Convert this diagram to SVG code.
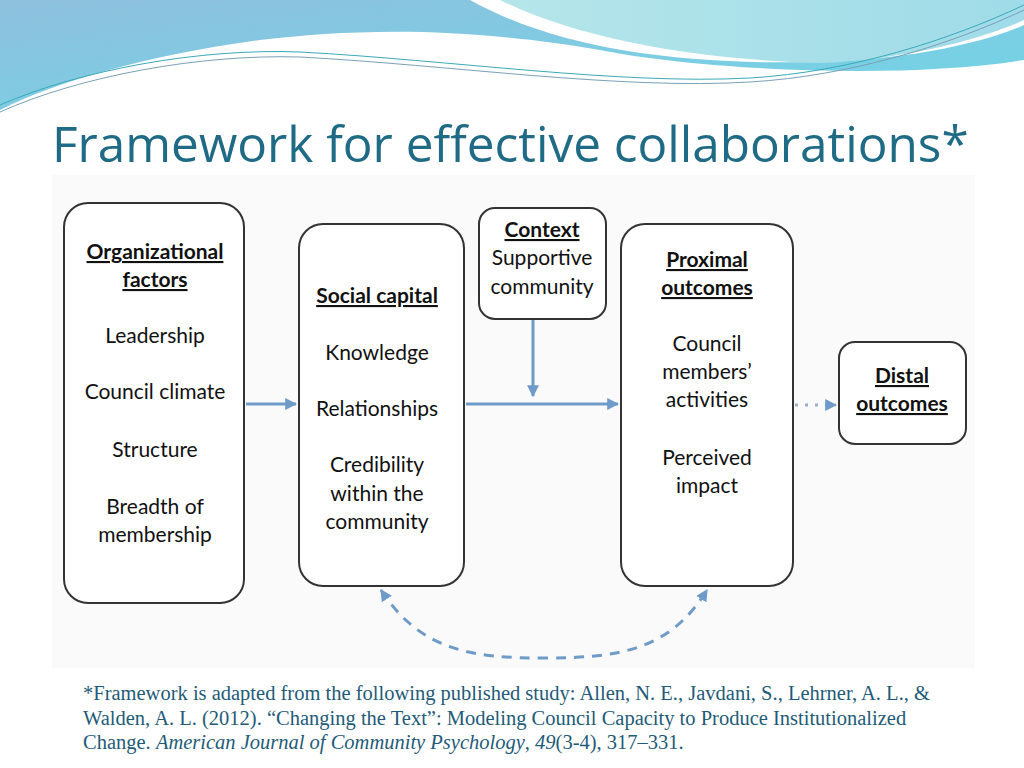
<svg xmlns="http://www.w3.org/2000/svg" width="1024" height="768" viewBox="0 0 1024 768">
<defs>
<linearGradient id="g1" x1="0" y1="0" x2="1" y2="1"><stop offset="0" stop-color="#8ec0de"/><stop offset="1" stop-color="#6fd6e6"/></linearGradient>
<linearGradient id="g2" x1="0" y1="0" x2="1" y2="0"><stop offset="0" stop-color="#b5e6ea"/><stop offset="1" stop-color="#9fdbe8"/></linearGradient>
<marker id="ah" viewBox="0 0 10 10" refX="9" refY="5" markerWidth="4" markerHeight="4" orient="auto"><path d="M0,0 L10,5 L0,10 z" fill="#6f9bc8"/></marker>
<marker id="ah2" viewBox="0 0 10 10" refX="9" refY="5" markerWidth="4" markerHeight="4" orient="auto-start-reverse"><path d="M0,0 L10,5 L0,10 z" fill="#6f9bc8"/></marker>
</defs>
<style>
.box{fill:#fff;stroke:#333;stroke-width:2}
.t{font-family:Lato,"Liberation Sans",sans-serif;font-size:21px;fill:#111;text-anchor:middle}
.b{font-weight:bold;text-decoration:underline}
.fn{font-family:"Liberation Serif",serif;font-size:20.5px;fill:#1f5b78}
</style>
<rect width="1024" height="768" fill="#fff"/>
<path d="M0,0 H1024 V60 C900,80 700,70 600,50 C450,25 350,30 260,40 C150,55 60,80 0,110 Z" fill="url(#g1)"/>
<path d="M470,0 C560,50 680,65 820,62 C900,60 980,45 1024,25 V0 Z" fill="#fff"/>
<path d="M500,0 C580,40 700,60 820,63 C900,60 980,40 1024,20 V0 Z" fill="url(#g2)"/>
<path d="M0,105 C80,70 200,48 300,52 C450,60 620,85 750,78 C850,72 950,40 1024,5" fill="none" stroke="#3aa9b8" stroke-width="1"/>
<path d="M0,112 C80,76 200,54 300,57 C450,65 620,90 750,82 C850,76 950,45 1024,10" fill="none" stroke="#7aa0b8" stroke-width="1"/>
<text x="52" y="162" font-family="'Open Sans','Liberation Sans',sans-serif" font-size="49.5" fill="#1f6b85">Framework for effective collaborations*</text>
<rect x="52" y="175" width="923" height="493" fill="#fafafa"/>
<g id="connectors" fill="none" stroke="#6f9bc8" stroke-width="3">
<line x1="246" y1="404" x2="296" y2="404" marker-end="url(#ah)"/>
<line x1="466" y1="404" x2="618" y2="404" marker-end="url(#ah)"/>
<line x1="533" y1="320" x2="533" y2="396" marker-end="url(#ah)"/>
<line x1="795" y1="405" x2="836" y2="405" stroke="#9ab0c4" stroke-dasharray="3 7" marker-end="url(#ah)"/>
<path d="M381,590 C420,650 470,658 544,658 C620,658 670,650 707,590" stroke-dasharray="10 8" marker-start="url(#ah2)" marker-end="url(#ah)"/>
</g>
<g id="org"><rect class="box" x="64" y="203" width="180" height="400" rx="24"/>
<text class="t"><tspan class="b" x="155" y="259">Organizational</tspan><tspan class="b" x="155" y="287">factors</tspan><tspan x="155" y="343">Leadership</tspan><tspan x="155" y="399">Council climate</tspan><tspan x="155" y="457">Structure</tspan><tspan x="155" y="514">Breadth of</tspan><tspan x="155" y="542">membership</tspan></text></g>
<g id="social"><rect class="box" x="299" y="224" width="165" height="362" rx="24"/>
<text class="t"><tspan class="b" x="377" y="303">Social capital</tspan><tspan x="377" y="360">Knowledge</tspan><tspan x="377" y="416">Relationships</tspan><tspan x="377" y="472">Credibility</tspan><tspan x="377" y="501">within the</tspan><tspan x="377" y="529">community</tspan></text></g>
<g id="context"><rect class="box" x="479" y="208" width="127" height="111" rx="16"/>
<text class="t"><tspan class="b" x="542" y="237">Context</tspan><tspan x="542" y="265">Supportive</tspan><tspan x="542" y="294">community</tspan></text></g>
<g id="proximal"><rect class="box" x="621" y="224" width="172" height="362" rx="24"/>
<text class="t"><tspan class="b" x="707" y="267">Proximal</tspan><tspan class="b" x="707" y="295">outcomes</tspan><tspan x="707" y="351">Council</tspan><tspan x="707" y="379">members’</tspan><tspan x="707" y="407">activities</tspan><tspan x="707" y="465">Perceived</tspan><tspan x="707" y="493">impact</tspan></text></g>
<g id="distal"><rect class="box" x="839" y="342" width="127" height="102" rx="16"/>
<text class="t"><tspan class="b" x="902" y="383">Distal</tspan><tspan class="b" x="902" y="411">outcomes</tspan></text></g>
<text class="fn"><tspan x="83" y="700">*Framework is adapted from the following published study: Allen, N. E., Javdani, S., Lehrner, A. L., &amp;</tspan><tspan x="83" y="725">Walden, A. L. (2012). “Changing the Text”: Modeling Council Capacity to Produce Institutionalized</tspan><tspan x="83" y="749">Change. <tspan font-style="italic">American Journal of Community Psychology</tspan>, <tspan font-style="italic">49</tspan>(3-4), 317–331.</tspan></text>
</svg>
